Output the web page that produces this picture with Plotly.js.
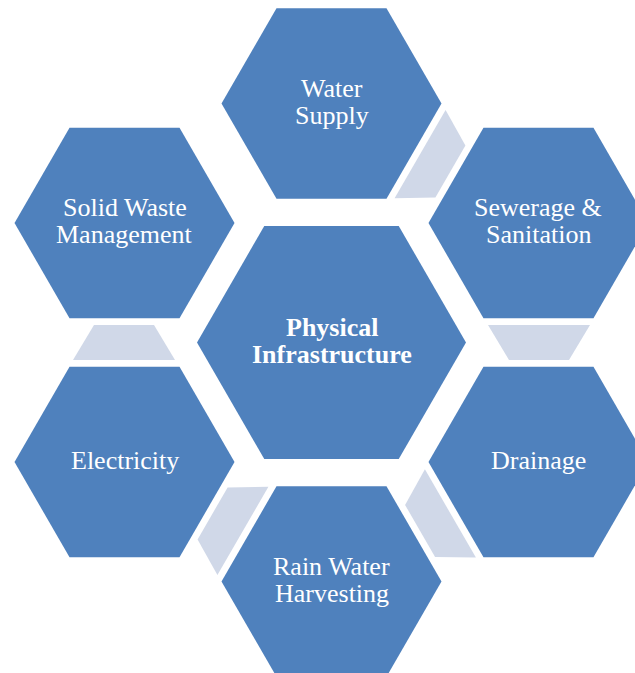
<!DOCTYPE html>
<html>
<head>
<meta charset="utf-8">
<script src="https://cdn.plot.ly/plotly-3.0.1.min.js"></script>
<style>html,body{margin:0;padding:0;background:#fff;}#chart{width:635px;height:673px;}</style>
</head>
<body>
<div id="chart"></div>
<script>
// ---- content ----
const centerLabel = ["Physical", "Infrastructure"];
const nodeNames = ["Water Supply", "Sewerage & Sanitation", "Drainage", "Rain Water Harvesting", "Electricity", "Solid Waste Management"];
const nodeLines = [["Water", "Supply"], ["Sewerage &", "Sanitation"], ["Drainage"], ["Rain Water", "Harvesting"], ["Electricity"], ["Solid Waste", "Management"]];
// connectors link node i -> node i+1 (clockwise)
const connectorFrom = [0, 1, 2, 3, 4];

// ---- geometry / style ----
const W = 635, H = 673;
const cx = 331.5, cy = 342.5;
const ringDist = 239;
const rCenter = 134.5, rOuter = 110;
const connDist = 207.5;
const trapWide = 51, trapNarrow = 30, trapHalfH = 17.5;
const hexColor = "#4F81BD", connColor = "#D0D8E8";
const fontFam = "Liberation Serif, Times New Roman, serif";
const fontSize = 26, linePitch = 27, textShift = -2;

function hexagon(x0, y0, r) {
  const xs = [], ys = [];
  for (let k = 0; k <= 6; k++) {
    const a = Math.PI / 3 * k;
    xs.push(x0 + r * Math.cos(a));
    ys.push(y0 + r * Math.sin(a));
  }
  return {xs, ys};
}
function nodeCenter(i) {
  const a = (-90 + 60 * i) * Math.PI / 180;
  return [cx + ringDist * Math.cos(a), cy + ringDist * Math.sin(a)];
}

const traces = [];
const annotations = [];

function addLabel(x0, y0, lines, bold) {
  const n = lines.length;
  lines.forEach((t, j) => {
    annotations.push({
      x: x0, y: y0 + textShift + (j - (n - 1) / 2) * linePitch,
      xref: "x", yref: "y", showarrow: false,
      text: bold ? "<b>" + t + "</b>" : t,
      font: {family: fontFam, size: fontSize, color: "#FFFFFF"},
      xanchor: "center", yanchor: "middle"
    });
  });
}

// connectors
connectorFrom.forEach((i) => {
  const phi = (-60 + 60 * i) * Math.PI / 180;
  const mx = cx + connDist * Math.cos(phi), my = cy + connDist * Math.sin(phi);
  const local = [[-trapWide, -trapHalfH], [trapWide, -trapHalfH], [trapNarrow, trapHalfH], [-trapNarrow, trapHalfH], [-trapWide, -trapHalfH]];
  const xs = [], ys = [];
  local.forEach(([u, v]) => {
    xs.push(mx + u * Math.cos(phi) - v * Math.sin(phi));
    ys.push(my + u * Math.sin(phi) + v * Math.cos(phi));
  });
  traces.push({x: xs, y: ys, mode: "lines", fill: "toself", fillcolor: connColor,
    line: {width: 0, color: connColor}, hoverinfo: "skip", showlegend: false,
    name: nodeNames[i] + " → " + nodeNames[i + 1]});
});

// outer hexagons
nodeNames.forEach((nm, i) => {
  const [x0, y0] = nodeCenter(i);
  const h = hexagon(x0, y0, rOuter);
  traces.push({x: h.xs, y: h.ys, mode: "lines", fill: "toself", fillcolor: hexColor,
    line: {width: 0, color: hexColor}, hoverinfo: "skip", showlegend: false, name: nm});
  addLabel(x0, y0, nodeLines[i], false);
});

// center hexagon
const hc = hexagon(cx, cy, rCenter);
traces.push({x: hc.xs, y: hc.ys, mode: "lines", fill: "toself", fillcolor: hexColor,
  line: {width: 0, color: hexColor}, hoverinfo: "skip", showlegend: false, name: centerLabel.join(" ")});
addLabel(cx, cy, centerLabel, true);

const layout = {
  width: W, height: H,
  margin: {l: 0, r: 0, t: 0, b: 0, pad: 0},
  paper_bgcolor: "#FFFFFF", plot_bgcolor: "#FFFFFF",
  xaxis: {range: [0, W], visible: false, fixedrange: true},
  yaxis: {range: [H, 0], visible: false, fixedrange: true},
  annotations: annotations,
  showlegend: false,
  hovermode: false
};
Plotly.newPlot("chart", traces, layout, {displayModeBar: false, staticPlot: true});
</script>
</body>
</html>
